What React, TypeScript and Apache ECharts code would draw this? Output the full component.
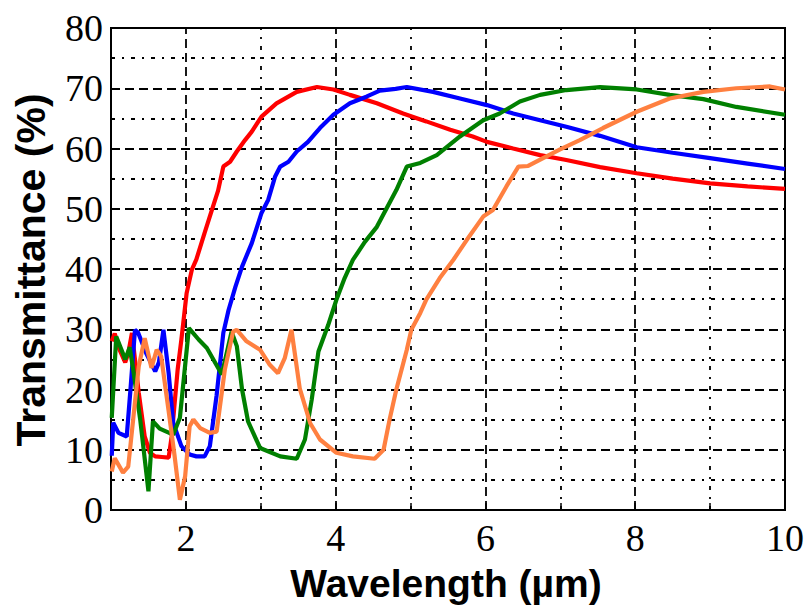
import React, { useEffect, useRef } from "react";
import * as echarts from "echarts";

const wlRed = [1.01,1.05,1.10,1.19,1.23,1.28,1.37,1.45,1.52,1.59,1.68,1.77,1.81,1.89,1.94,2.01,2.08,2.14,2.25,2.37,2.43,2.50,2.59,2.68,2.79,2.88,3.01,3.21,3.48,3.75,3.97,4.19,4.55,4.90,5.21,5.53,5.83,6.02,6.37,6.73,7.08,7.53,8.02,8.5,9.0,9.5,10];
const tRed = [28,29.3,27,24.5,26,29.4,19.5,12.2,9.5,8.9,8.8,8.7,12.2,23.3,28.3,36,39.9,41.6,46,50.7,53,57,57.8,59.5,61.4,62.8,65.3,67.5,69.4,70.2,69.8,68.9,67.5,65.8,64.5,63.1,62,61.1,60,58.9,58.1,56.9,55.9,55,54.2,53.7,53.3];

const wlBlue = [1.01,1.03,1.10,1.21,1.26,1.32,1.36,1.47,1.59,1.64,1.70,1.77,1.83,1.94,2.05,2.14,2.25,2.32,2.41,2.50,2.57,2.66,2.75,2.88,3.01,3.10,3.19,3.26,3.37,3.48,3.63,3.79,3.97,4.19,4.41,4.59,4.80,4.95,5.30,5.66,6.02,6.37,6.73,7.08,7.53,8.02,8.5,9.0,9.5,10];
const tBlue = [9,14.5,12.8,12.2,20,29.9,29.5,26,23,24.5,29.9,22.7,14.5,10.6,9.2,8.9,8.9,10.6,19,29.4,33.2,37,40.4,44.3,49.3,51.5,55.3,57,57.8,59.5,61.1,63.4,65.6,67.5,68.6,69.6,69.9,70.2,69.4,68.3,67.2,65.8,64.7,63.6,62.1,60.2,59.3,58.4,57.5,56.6];

const wlGreen = [1.01,1.07,1.19,1.25,1.30,1.39,1.50,1.56,1.65,1.74,1.83,1.92,2.04,2.17,2.28,2.48,2.61,2.68,2.75,2.83,2.99,3.26,3.48,3.59,3.68,3.77,3.90,4.01,4.12,4.23,4.39,4.55,4.81,4.95,5.13,5.35,5.66,5.97,6.19,6.46,6.73,7.08,7.53,8.02,8.46,8.91,9.35,10];
const tGreen = [15.3,28.8,25,27,23,15,3.1,14.7,13.5,13,12.5,15.3,30.2,28.3,26.9,22.5,29.6,27.2,20,14.7,10.3,8.9,8.5,11.7,18.3,26.3,30.7,34.9,38.5,41.5,44.5,47,53.1,57,57.6,58.9,62,64.7,65.8,67.8,68.9,69.7,70.2,69.8,68.9,68.2,66.9,65.6];

const wlOrange = [1.01,1.05,1.16,1.23,1.30,1.37,1.45,1.54,1.61,1.67,1.77,1.85,1.92,1.99,2.05,2.10,2.19,2.32,2.41,2.52,2.63,2.68,2.81,2.99,3.12,3.23,3.32,3.41,3.52,3.66,3.79,4.01,4.23,4.52,4.64,4.72,4.81,4.95,5.01,5.13,5.21,5.39,5.57,5.75,5.97,6.10,6.28,6.44,6.57,6.77,6.99,7.26,7.57,8.02,8.46,8.91,9.35,9.80,10];
const tOrange = [6.4,8.6,6.2,7.2,15.5,23.8,28.5,23.6,26.6,25.5,16.4,8.9,1.7,5.6,13.9,15,13.6,12.8,13,23.3,29.6,29.9,28,26.6,24.1,22.7,25.2,29.9,20.2,14.4,11.7,9.5,8.9,8.5,10,15,20,26.6,29.9,32.7,34.9,38.5,41.5,44.8,48.7,49.8,53.7,57,57.1,58.4,59.8,61.4,63.4,66.1,68.3,69.4,70,70.3,69.8];

const majorX = [2, 4, 6, 8];
const minorX = [3, 5, 7, 9];

const xTitle = "Wavelength (µm)";
const yTitle = "Transmittance (%)";

const zip = (xs: number[], ys: number[]) => xs.map((x, i) => [x, ys[i]]);

const DASH = [9, 5];
const DOT = [4, 7, 2, 7];
const GW = 1.8;

export default function App() {
  const ref = useRef<HTMLDivElement>(null);
  useEffect(() => {
    if (!ref.current) return;
    const chart = echarts.init(ref.current, null, { renderer: "svg" });
    const lineSeries = (name: string, color: string, data: number[][], extra: any = {}) => ({
      name,
      type: "line",
      data,
      showSymbol: false,
      symbol: "none",
      lineStyle: { color, width: 4.2 },
      itemStyle: { color },
      z: 2,
      ...extra,
    });
    chart.setOption({
      animation: false,
      backgroundColor: "#fff",
      grid: {
        left: 111,
        right: 23,
        top: 28,
        bottom: 98,
        show: true,
        borderColor: "#000",
        borderWidth: 2,
        backgroundColor: "transparent",
      },
      xAxis: {
        type: "value",
        min: 1,
        max: 10,
        interval: 1,
        axisLine: { show: true, onZero: false, lineStyle: { color: "#000", width: 2 } },
        axisTick: { show: true, inside: true, length: 7, lineStyle: { color: "#000", width: 1.5 } },
        splitLine: { show: false },
        axisLabel: {
          color: "#000",
          fontFamily: "'Liberation Serif', 'Times New Roman', serif",
          fontSize: 38,
          margin: 9,
          formatter: (v: number) => (v % 2 === 0 ? String(v) : ""),
        },
      },
      yAxis: {
        type: "value",
        min: 0,
        max: 80,
        interval: 10,
        axisLine: { show: true, lineStyle: { color: "#000", width: 2 } },
        axisTick: { show: true, inside: true, length: 6, lineStyle: { color: "#000", width: 1.5 } },
        minorTick: { show: true, splitNumber: 2, length: 4, lineStyle: { color: "#000", width: 1.5 } },
        splitLine: { show: true, lineStyle: { color: "#000", type: DASH, width: GW } },
        minorSplitLine: { show: true, lineStyle: { color: "#000", type: DOT, width: GW } },
        axisLabel: {
          color: "#000",
          fontFamily: "'Liberation Serif', 'Times New Roman', serif",
          fontSize: 38,
          margin: 8,
        },
      },
      graphic: [
        {
          type: "text",
          x: 31,
          y: 270,
          rotation: Math.PI / 2,
          style: {
            text: yTitle,
            font: "bold 41px 'Liberation Sans', Arial, sans-serif",
            fill: "#000",
            textAlign: "center",
            textVerticalAlign: "middle",
            align: "center",
            verticalAlign: "middle",
          },
        },
        {
          type: "text",
          x: 446,
          y: 583,
          style: {
            text: xTitle,
            font: "bold 39px 'Liberation Sans', Arial, sans-serif",
            fill: "#000",
            textAlign: "center",
            textVerticalAlign: "middle",
            align: "center",
            verticalAlign: "middle",
          },
        },
      ],
      series: [
        lineSeries("red", "#ff0000", zip(wlRed, tRed), {
          markLine: {
            silent: true,
            symbol: ["none", "none"],
            z: 1,
            label: { show: false },
            lineStyle: { color: "#000", width: GW },
            data: [
              ...majorX.map((v) => ({ xAxis: v, lineStyle: { color: "#000", width: GW, type: DASH } })),
              ...minorX.map((v) => ({ xAxis: v, lineStyle: { color: "#000", width: GW, type: DOT } })),
            ],
          },
        }),
        lineSeries("blue", "#0000ff", zip(wlBlue, tBlue)),
        lineSeries("green", "#008000", zip(wlGreen, tGreen)),
        lineSeries("orange", "#ff8040", zip(wlOrange, tOrange)),
      ],
    });
    return () => chart.dispose();
  }, []);
  return (
    <div
      ref={ref}
      style={{ position: "fixed", left: 0, top: 0, width: 808, height: 608 }}
    />
  );
}
